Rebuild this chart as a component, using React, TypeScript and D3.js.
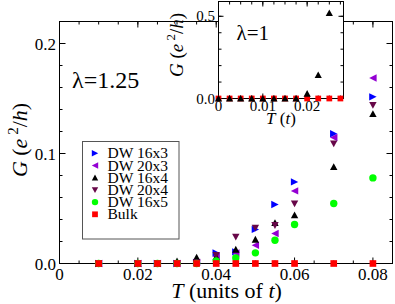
import * as d3 from 'd3'

// main panel data, lambda = 1.25
const temps = [0.01, 0.02, 0.025, 0.03, 0.035, 0.04, 0.045, 0.05, 0.055, 0.06, 0.07, 0.08]
const dw16x3 = [0, 0, 0, 0, 0.001, 0.0095, 0.0106, 0.031, 0.0536, 0.0742, 0.118, 0.1515]
const dw20x3 = [0, 0, 0, 0, 0.001, 0.0066, 0.0096, 0.0166, 0.0273, 0.066, 0.1145, 0.1687]
const dw16x4 = [0, 0, 0, 0.002, 0.0055, 0.006, 0.0127, 0.0218, 0.0369, 0.0439, 0.0878, 0.136]
const dw20x4 = [0, 0, 0, 0, 0.001, 0.0075, 0.0242, 0.0324, 0.0348, 0.0545, 0.109, 0.144]
const dw16x5 = [0, 0, 0, 0, 0, 0.0024, 0.0051, 0.0097, 0.0212, 0.0355, 0.0545, 0.0778]
const bulk = [0, 0, 0, 0, 0, 0, 0, 0, 0, 0, 0, 0]

// inset data, lambda = 1
const insetTemps = [0, 0.0025, 0.005, 0.0075, 0.01, 0.0125, 0.015, 0.0175, 0.02, 0.0225, 0.025, 0.0275]
const insetDW16x4 = [0, 0, 0, 0, 0, 0, 0, 0, 0.03, 0.143, 0.52]
const insetBulk = [0, 0, 0, 0, 0, 0, 0, 0, 0, 0, 0, 0]

const xTicks = [0, 0.02, 0.04, 0.06, 0.08]
const yTicks = [0, 0.1, 0.2]
const insetXTicks = [0, 0.01, 0.02]
const insetYTicks = [0, 0.5]

const series = [
  { name: 'DW 16x3', values: dw16x3, shape: 'right', color: '#0000ff' },
  { name: 'DW 20x3', values: dw20x3, shape: 'left', color: '#9400d3' },
  { name: 'DW 16x4', values: dw16x4, shape: 'up', color: '#000000' },
  { name: 'DW 20x4', values: dw20x4, shape: 'down', color: '#670748' },
  { name: 'DW 16x5', values: dw16x5, shape: 'circle', color: '#00ff00' },
  { name: 'Bulk', values: bulk, shape: 'square', color: '#ff0000' },
]

const serif = { fontFamily: "'Liberation Serif'" }

// marker drawn around (0,0)
const Marker = ({ shape, s, color, x, y }) => {
  const t = `translate(${x},${y})`
  if (shape === 'circle') return <circle cx={x} cy={y} r={s} fill={color} />
  let d = ''
  if (shape === 'right') d = `M${-s},${-s}L${s},0L${-s},${s}Z`
  if (shape === 'left') d = `M${s},${-s}L${-s},0L${s},${s}Z`
  if (shape === 'up') d = `M0,${-s}L${s},${s * 0.85}L${-s},${s * 0.85}Z`
  if (shape === 'down') d = `M0,${s}L${s},${-s * 0.85}L${-s},${-s * 0.85}Z`
  if (shape === 'square') d = `M${-s * 0.9},${-s * 0.9}h${s * 1.8}v${s * 1.8}h${-s * 1.8}Z`
  return <path d={d} transform={t} fill={color} />
}

// frame with inward ticks on all four sides
const Frame = ({ x, y, xMajor, xMinor, yMajor, yMinor, major, minor }) => {
  const [x0, x1] = x.range()
  const [y0, y1] = y.range()
  const lines = []
  xMinor.forEach((v, i) => {
    const px = x(v)
    lines.push(<line key={'xb' + i} x1={px} x2={px} y1={y0} y2={y0 - minor} />)
    lines.push(<line key={'xt' + i} x1={px} x2={px} y1={y1} y2={y1 + minor} />)
  })
  xMajor.forEach((v, i) => {
    const px = x(v)
    lines.push(<line key={'xB' + i} x1={px} x2={px} y1={y0} y2={y0 - major} />)
    lines.push(<line key={'xT' + i} x1={px} x2={px} y1={y1} y2={y1 + major} />)
  })
  yMinor.forEach((v, i) => {
    const py = y(v)
    lines.push(<line key={'yl' + i} x1={x0} x2={x0 + minor} y1={py} y2={py} />)
    lines.push(<line key={'yr' + i} x1={x1} x2={x1 - minor} y1={py} y2={py} />)
  })
  yMajor.forEach((v, i) => {
    const py = y(v)
    lines.push(<line key={'yL' + i} x1={x0} x2={x0 + major} y1={py} y2={py} />)
    lines.push(<line key={'yR' + i} x1={x1} x2={x1 - major} y1={py} y2={py} />)
  })
  return (
    <g stroke="#000" strokeWidth={1} fill="none">
      <rect x={x0} y={y1} width={x1 - x0} height={y0 - y1} fill="#fff" />
      {lines}
    </g>
  )
}

export default function App() {
  // main panel scales
  const x = d3.scaleLinear().domain([0, 0.085]).range([59.5, 392.5])
  const y = d3.scaleLinear().domain([0, 0.22]).range([263.5, 21.5])
  // inset scales
  const ix = d3.scaleLinear().domain([0, 0.0282]).range([218.5, 343.5])
  const iy = d3.scaleLinear().domain([0, 0.59]).range([98.5, 1.5])

  const xMinor = d3.range(0, 0.0851, 0.005)
  const yMinor = d3.range(0, 0.221, 0.02)
  const ixMinor = d3.range(0, 0.0282, 0.0025)
  const iyMinor = d3.range(0, 0.591, 0.1)

  const fmtX = (v) => (v === 0 ? '0' : d3.format('.2f')(v))

  return (
    <svg width={395} height={304} style={{ position: 'absolute', left: 0, top: 0 }}>
      <rect width={395} height={304} fill="#fff" />

      {/* main panel */}
      <Frame x={x} y={y} xMajor={xTicks} xMinor={xMinor} yMajor={yTicks} yMinor={yMinor} major={6} minor={3} />

      {series.map((s) => (
        <g key={s.name}>
          {s.values.map((v, i) => (
            <Marker key={i} shape={s.shape} s={3.7} color={s.color} x={x(temps[i])} y={y(v)} />
          ))}
        </g>
      ))}

      {xTicks.map((v) => (
        <text key={v} x={x(v)} y={280} fontSize={17} style={serif} textAnchor="middle">{fmtX(v)}</text>
      ))}
      {yTicks.map((v) => (
        <text key={v} x={56} y={y(v) + 6} fontSize={17} style={serif} textAnchor="end">{v.toFixed(1)}</text>
      ))}

      <text x={226.5} y={298} fontSize={22} style={serif} textAnchor="middle">
        <tspan fontStyle="italic">T</tspan> (units of <tspan fontStyle="italic">t</tspan>)
      </text>
      <text transform="translate(27,140) rotate(-90)" fontSize={22} style={serif} textAnchor="middle">
        <tspan fontStyle="italic">G</tspan>  (<tspan fontStyle="italic">e</tspan>
        <tspan dy={-9} fontSize={15}> 2</tspan>
        <tspan dy={9}>/</tspan><tspan fontStyle="italic">h</tspan>)
      </text>
      <text x={72} y={88} fontSize={24} style={serif}>λ=1.25</text>

      {/* legend */}
      <rect x={82.5} y={141.5} width={96.5} height={97.5} fill="#fff" stroke="#555" strokeWidth={1} />
      {series.map((s, i) => (
        <g key={s.name}>
          <Marker shape={s.shape} s={3.2} color={s.color} x={95} y={153.3 + i * 12.2} />
          <text x={107.5} y={153.3 + i * 12.2 + 5} fontSize={15.5} style={serif}>{s.name}</text>
        </g>
      ))}

      {/* inset */}
      <Frame x={ix} y={iy} xMajor={insetXTicks} xMinor={ixMinor} yMajor={insetYTicks} yMinor={iyMinor} major={5} minor={3} />
      {insetBulk.map((v, i) => (
        <Marker key={'b' + i} shape="square" s={3.2} color="#ff0000" x={ix(insetTemps[i])} y={iy(v)} />
      ))}
      {insetDW16x4.map((v, i) => (
        <Marker key={'t' + i} shape="up" s={3.6} color="#000" x={ix(insetTemps[i])} y={iy(v)} />
      ))}
      {insetXTicks.map((v) => (
        <text key={v} x={ix(v)} y={111} fontSize={15} style={serif} textAnchor="middle">{v === 0 ? '0' : v.toFixed(2)}</text>
      ))}
      {insetYTicks.map((v) => (
        <text key={v} x={215} y={iy(v) + 5} fontSize={15} style={serif} textAnchor="end">{v.toFixed(1)}</text>
      ))}
      <text x={281} y={124} fontSize={17} style={serif} textAnchor="middle">
        <tspan fontStyle="italic">T</tspan> (<tspan fontStyle="italic">t</tspan>)
      </text>
      <text transform="translate(183,45) rotate(-90)" fontSize={19} style={serif} textAnchor="middle">
        <tspan fontStyle="italic">G</tspan>  (<tspan fontStyle="italic">e</tspan>
        <tspan dy={-8} fontSize={13}> 2</tspan>
        <tspan dy={8}>/</tspan><tspan fontStyle="italic">h</tspan>)
      </text>
      <text x={236.5} y={40} fontSize={21} style={serif}>λ=1</text>
    </svg>
  )
}
